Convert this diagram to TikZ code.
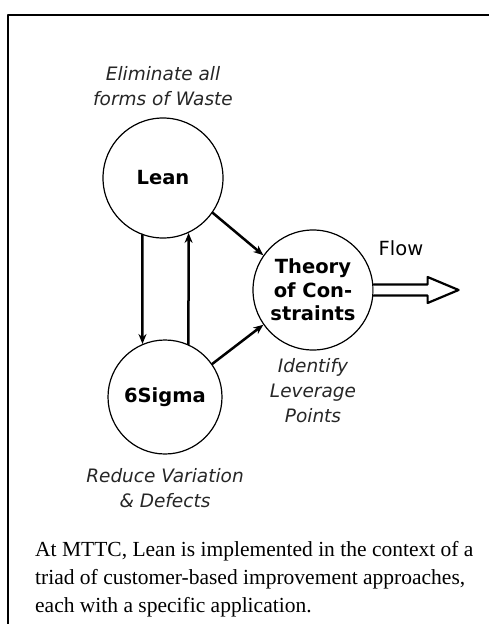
\documentclass[tikz,border=0pt]{standalone}
\usepackage{fontspec}
\setmainfont{Liberation Serif}
\newfontfamily\diagfont{DejaVu Sans}
\usetikzlibrary{calc,arrows.meta,positioning}

\begin{document}
\begin{tikzpicture}[x=1pt,y=-1pt,line join=round,line cap=round,
	method/.style={circle,draw,line width=1.2pt,minimum size=120pt,inner sep=0pt,align=center,
		font=\diagfont\bfseries\fontsize{19.5}{23.5}\selectfont},
	goal/.style={align=center,text=black!85,font=\diagfont\itshape\fontsize{18.5}{25}\selectfont},
	link/.style={line width=2.5pt,-{Stealth[length=10pt,width=8pt]}}]
\useasboundingbox (0,0) rectangle (489,624);
% frame
\draw[line width=2pt] (8,624) -- (8,15) -- (489,15);
% the three approaches
\node[method] (lean) at (163,178) {Lean};
\node[method,minimum size=114pt] (sigma) at (165,397) {6Sigma};
\node[method] (toc) at (313,290) {Theory\\of Con-\\straints};
\foreach \nd/\pos/\gap/\txt in {lean/above/8/{Eliminate all\\forms of Waste},
	sigma/below/10/{Reduce Variation\\\& Defects},
	toc/below/4/{Identify\\Leverage\\Points}}
	{\node[goal,\pos=\gap pt of \nd] (\nd-goal) {\txt};}
% links
\draw[link] (lean.-110) -- (sigma.113.8);
\draw[link] (sigma.66.2) -- (lean.-65.4);
\draw[link] (lean.-35) -- (toc.145);
\draw[link] (sigma.35) -- (toc.-145);
% flow arrow
\draw[line width=2.2pt,fill=white] (toc.east) ++(0,-5.5) -- ++(54,0) -- ++(0,-7.5) -- ++(31,13)
	-- ++(-31,13) -- ++(0,-7.5) -- ++(-54,0);
\node[font=\diagfont\fontsize{19.5}{22}\selectfont] (flow) at (401,248) {Flow};
% caption
\node[anchor=north west,align=left,inner sep=0pt,font=\fontsize{21.5}{28}\selectfont] (cap) at (35,541)
	{At MTTC, Lean is implemented in the context of a\\
	triad of customer-based improvement approaches,\\
	each with a specific application.};
\end{tikzpicture}
\end{document}
